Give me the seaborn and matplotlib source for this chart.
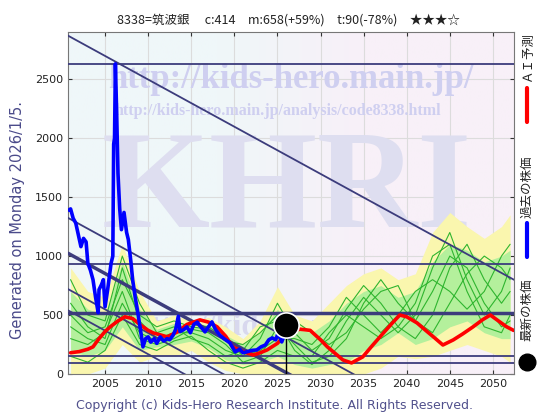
import numpy as np
import pandas as pd
import seaborn as sns
import matplotlib
matplotlib.use('Agg')
import matplotlib.pyplot as plt
from matplotlib.colors import LinearSegmentedColormap
from matplotlib.lines import Line2D

# past price (blue)
past_years = [2000.8, 2001.0, 2001.3, 2001.6, 2001.9, 2002.2, 2002.5, 2002.8, 2003.0, 2003.3,
              2003.6, 2003.9, 2004.2, 2004.3, 2004.6, 2004.8, 2005.0, 2005.3, 2005.7, 2005.9,
              2006.0, 2006.1, 2006.2, 2006.35, 2006.5, 2006.7, 2006.9, 2007.2, 2007.5, 2007.7,
              2008.0, 2008.2, 2008.5, 2008.8, 2009.1, 2009.4, 2009.7, 2010.0, 2010.3, 2010.7,
              2011.0, 2011.4, 2011.8, 2012.2, 2012.5, 2012.9, 2013.2, 2013.5, 2013.7, 2014.1,
              2014.5, 2014.9, 2015.3, 2015.7, 2016.1, 2016.6, 2017.0, 2017.4, 2017.8, 2018.3,
              2018.8, 2019.5, 2020.1, 2020.6, 2021.0, 2021.4, 2022.0, 2022.6, 2023.1, 2023.6,
              2024.0, 2024.4, 2024.8, 2025.1, 2025.5, 2025.8, 2026.0]
past_price = [1390, 1400, 1320, 1280, 1180, 1080, 1150, 1120, 940, 880,
              800, 650, 520, 715, 760, 800, 570, 715, 940, 1000,
              1950, 2000, 2630, 2200, 1700, 1400, 1224, 1370, 1200, 1140,
              950, 800, 650, 520, 380, 230, 300, 315, 270, 300,
              260, 315, 280, 300, 290, 330, 380, 490, 360, 375,
              400, 350, 420, 440, 400, 357, 400, 442, 380, 330,
              300, 263, 187, 210, 180, 187, 200, 204, 230, 246,
              290, 306, 290, 350, 272, 330, 414]

# AI forecast (red)
ai_years = [2001.0, 2002.0, 2003.0, 2003.6, 2004.3, 2005.0, 2005.6, 2006.5, 2007.3, 2008.2,
            2009.1, 2010.0, 2010.6, 2011.5, 2012.2, 2013.4, 2014.5, 2016.0, 2017.0, 2018.0,
            2019.0, 2019.8, 2021.0, 2022.2, 2023.0, 2023.8, 2025.0, 2026.1, 2027.6, 2028.8,
            2030.0, 2030.8, 2032.6, 2033.6, 2034.9, 2036.0, 2037.3, 2038.3, 2039.2, 2040.0,
            2041.2, 2042.2, 2043.1, 2044.2, 2045.4, 2046.5, 2047.7, 2048.8, 2049.7, 2050.8,
            2051.6, 2052.4]
ai_price = [180, 190, 210, 230, 300, 360, 400, 450, 485, 470,
            416, 370, 348, 330, 315, 357, 420, 459, 440, 400,
            320, 230, 190, 161, 180, 204, 260, 348, 380, 370,
            290, 230, 119, 94, 145, 240, 348, 430, 500, 485,
            433, 370, 315, 246, 289, 340, 400, 460, 500, 442,
            400, 370]

# simulation band (yellow outer, green inner) and sample paths
band_years = [2001, 2003, 2005, 2007, 2009, 2011, 2013, 2015, 2017, 2019, 2021, 2023, 2025,
              2027, 2029, 2031, 2033, 2035, 2037, 2039, 2041, 2043, 2045, 2047, 2049, 2051, 2052]
yellow_high = [900, 700, 650, 1100, 700, 450, 500, 450, 480, 400, 300, 450, 740,
               500, 450, 600, 750, 850, 900, 800, 850, 1200, 1370, 1250, 1150, 1250, 1350]
green_high = [700, 550, 500, 950, 550, 380, 430, 400, 420, 330, 250, 350, 550,
              380, 350, 450, 600, 700, 750, 650, 700, 950, 1100, 1050, 950, 1000, 1050]
green_low = [200, 150, 200, 400, 200, 230, 250, 280, 220, 120, 80, 100, 150,
             80, 50, 80, 100, 200, 250, 350, 250, 300, 400, 450, 350, 300, 300]
yellow_low = [0, 0, 50, 250, 100, 150, 150, 200, 100, 30, 0, 0, 0,
              0, 0, 0, 0, 0, 50, 150, 130, 150, 200, 250, 200, 150, 100]
sim_paths = [
    [600, 400, 300, 900, 450, 300, 350, 350, 300, 200, 150, 300, 600, 350, 200, 300, 550, 750, 600, 400, 300, 500, 900, 1100, 800, 600, 700],
    [300, 250, 350, 700, 300, 250, 300, 380, 350, 250, 100, 150, 400, 250, 100, 150, 300, 600, 800, 600, 450, 700, 1000, 900, 600, 400, 450],
    [800, 500, 450, 1000, 600, 350, 400, 300, 250, 150, 200, 400, 450, 200, 80, 200, 450, 650, 500, 350, 500, 900, 1200, 800, 500, 700, 900],
    [400, 300, 250, 600, 350, 280, 350, 420, 400, 300, 150, 200, 300, 300, 250, 400, 650, 500, 350, 500, 700, 800, 700, 550, 700, 1000, 1100],
    [150, 100, 200, 500, 250, 200, 280, 320, 200, 100, 50, 100, 200, 150, 150, 350, 500, 400, 300, 400, 600, 1000, 1100, 700, 400, 350, 500],
    [500, 350, 400, 800, 500, 400, 450, 400, 380, 280, 250, 350, 500, 450, 350, 250, 350, 550, 700, 750, 450, 350, 600, 850, 1000, 900, 800],
]

# support / trend lines
h_levels = [2630, 930, 515, 153, 94]
h_widths = [1.3, 1.3, 2.5, 1.3, 1.3]
trend_at_2000 = [2897, 1352, 1052, 748, 568]
trend_widths = [1.3, 1.3, 2.5, 1.3, 1.3]
trend_slope = -40

latest_year = 2026.0
latest_price = 414

xmin, xmax = 2000.7, 2052.45
ymin, ymax = 0, 2900
line_col = '#3c3c7c'

sns.set_style('ticks')
plt.rcParams['font.family'] = ['DejaVu Sans']
fig = plt.figure(figsize=(5.6, 4.2), dpi=100)
ax = fig.add_axes([68 / 560, 1 - 374 / 420, 446 / 560, 342 / 420])

bg = LinearSegmentedColormap.from_list('bg', ['#eff7f9', '#eff7f9', '#f8f0f8', '#f8f0f8'])
ax.imshow(np.linspace(0, 1, 256)[None, :], cmap=bg, extent=[xmin, xmax, ymin, ymax],
          aspect='auto', zorder=0)

for y in range(0, 3000, 500):
    ax.axhline(y, color='#dcdcdc', lw=0.8, zorder=0.3)
for x in range(2005, 2055, 5):
    ax.axvline(x, color='#dcdcdc', lw=0.8, zorder=0.3)

wm = '#cfcff0'
ax.text(0.5, 0.86, 'http://kids-hero.main.jp/', transform=ax.transAxes, ha='center', va='center',
        fontsize=25, fontweight='bold', family='Liberation Serif', color=wm, zorder=0.5)
ax.text(0.47, 0.77, 'http://kids-hero.main.jp/analysis/code8338.html', transform=ax.transAxes,
        ha='center', va='center', fontsize=11.5, fontweight='bold', family='Liberation Serif',
        color=wm, zorder=0.5)
ax.text(0.49, 0.53, 'KHRI', transform=ax.transAxes, ha='center', va='center', fontsize=100,
        fontweight='bold', family='Liberation Serif', color='#dedef0', zorder=0.5)
ax.text(0.5, 0.135, 'http://kids-hero.main.jp', transform=ax.transAxes, ha='center', va='center',
        fontsize=22, fontweight='bold', family='Liberation Serif', color='#d8d8ee', zorder=0.5)

ax.fill_between(band_years, yellow_low, yellow_high, color='#faf6ae', lw=0, zorder=1)
ax.fill_between(band_years, green_low, green_high, color='#b4f09c', lw=0, zorder=1.1)
for path in sim_paths:
    sns.lineplot(x=band_years, y=path, ax=ax, color='#2fb52f', lw=0.8, zorder=2,
                 estimator=None, sort=False)

for lvl, w in zip(h_levels, h_widths):
    ax.axhline(lvl, color=line_col, lw=w, zorder=3)
tx = np.array([xmin, xmax])
for b, w in zip(trend_at_2000, trend_widths):
    sns.lineplot(x=tx, y=b + trend_slope * (tx - 2000), ax=ax, color=line_col, lw=w,
                 zorder=3, estimator=None, sort=False)

sns.lineplot(x=ai_years, y=ai_price, ax=ax, color='#ff0000', lw=2.6, zorder=4,
             estimator=None, sort=False)
sns.lineplot(x=past_years, y=past_price, ax=ax, color='#0000ff', lw=2.6, zorder=5,
             estimator=None, sort=False)
ax.plot([latest_year, latest_year], [0, latest_price], color='black', lw=1, zorder=5)
sns.scatterplot(x=[latest_year], y=[latest_price], ax=ax, s=330, color='black',
                edgecolor='white', linewidth=1.2, zorder=6)

ax.set_xlim(xmin, xmax)
ax.set_ylim(ymin, ymax)
ax.set_xticks(range(2005, 2055, 5))
ax.set_yticks(range(0, 3000, 500))
ax.tick_params(direction='in', length=3, labelsize=8, colors='#333333', top=True, right=True,
               labelcolor='#222222')
for s in ax.spines.values():
    s.set_color('#777777')
    s.set_linewidth(0.8)
ax.set_xlabel('')
ax.set_ylabel('')

cjk = ['Noto Sans CJK JP', 'DejaVu Sans']
fig.text(288 / 560, 1 - 20 / 420,
         '8338=筑波銀　 c:414　m:658(+59%)　t:90(-78%)　★★★☆',
         ha='center', va='center', fontsize=9, family=cjk, color='#222222')
fig.text(18 / 560, 1 - 220 / 420, 'Generated on Monday 2026/1/5.', rotation=90,
         ha='center', va='center', fontsize=10.5, color='#4a4a8a')
fig.text(275 / 560, 1 - 405 / 420,
         'Copyright (c) Kids-Hero Research Institute. All Rights Reserved.',
         ha='center', va='center', fontsize=9, color='#50508c')

fig.text(527 / 560, 1 - 57 / 420, 'ＡＩ予測', rotation=90, ha='center', va='center',
         fontsize=9, family=cjk, color='#222222')
fig.add_artist(Line2D([527 / 560] * 2, [1 - 88 / 420, 1 - 122 / 420], color='#ff0000', lw=3))
fig.text(527 / 560, 1 - 187 / 420, '過去の株価', rotation=90, ha='center', va='center',
         fontsize=9, family=cjk, color='#222222')
fig.add_artist(Line2D([527 / 560] * 2, [1 - 223 / 420, 1 - 257 / 420], color='#0000ff', lw=3))
fig.text(527 / 560, 1 - 310 / 420, '最新の株価', rotation=90, ha='center', va='center',
         fontsize=9, family=cjk, color='#222222')
fig.add_artist(Line2D([527 / 560], [1 - 362 / 420], marker='o', markersize=12, color='black'))

fig.savefig('out.png', dpi=100)
